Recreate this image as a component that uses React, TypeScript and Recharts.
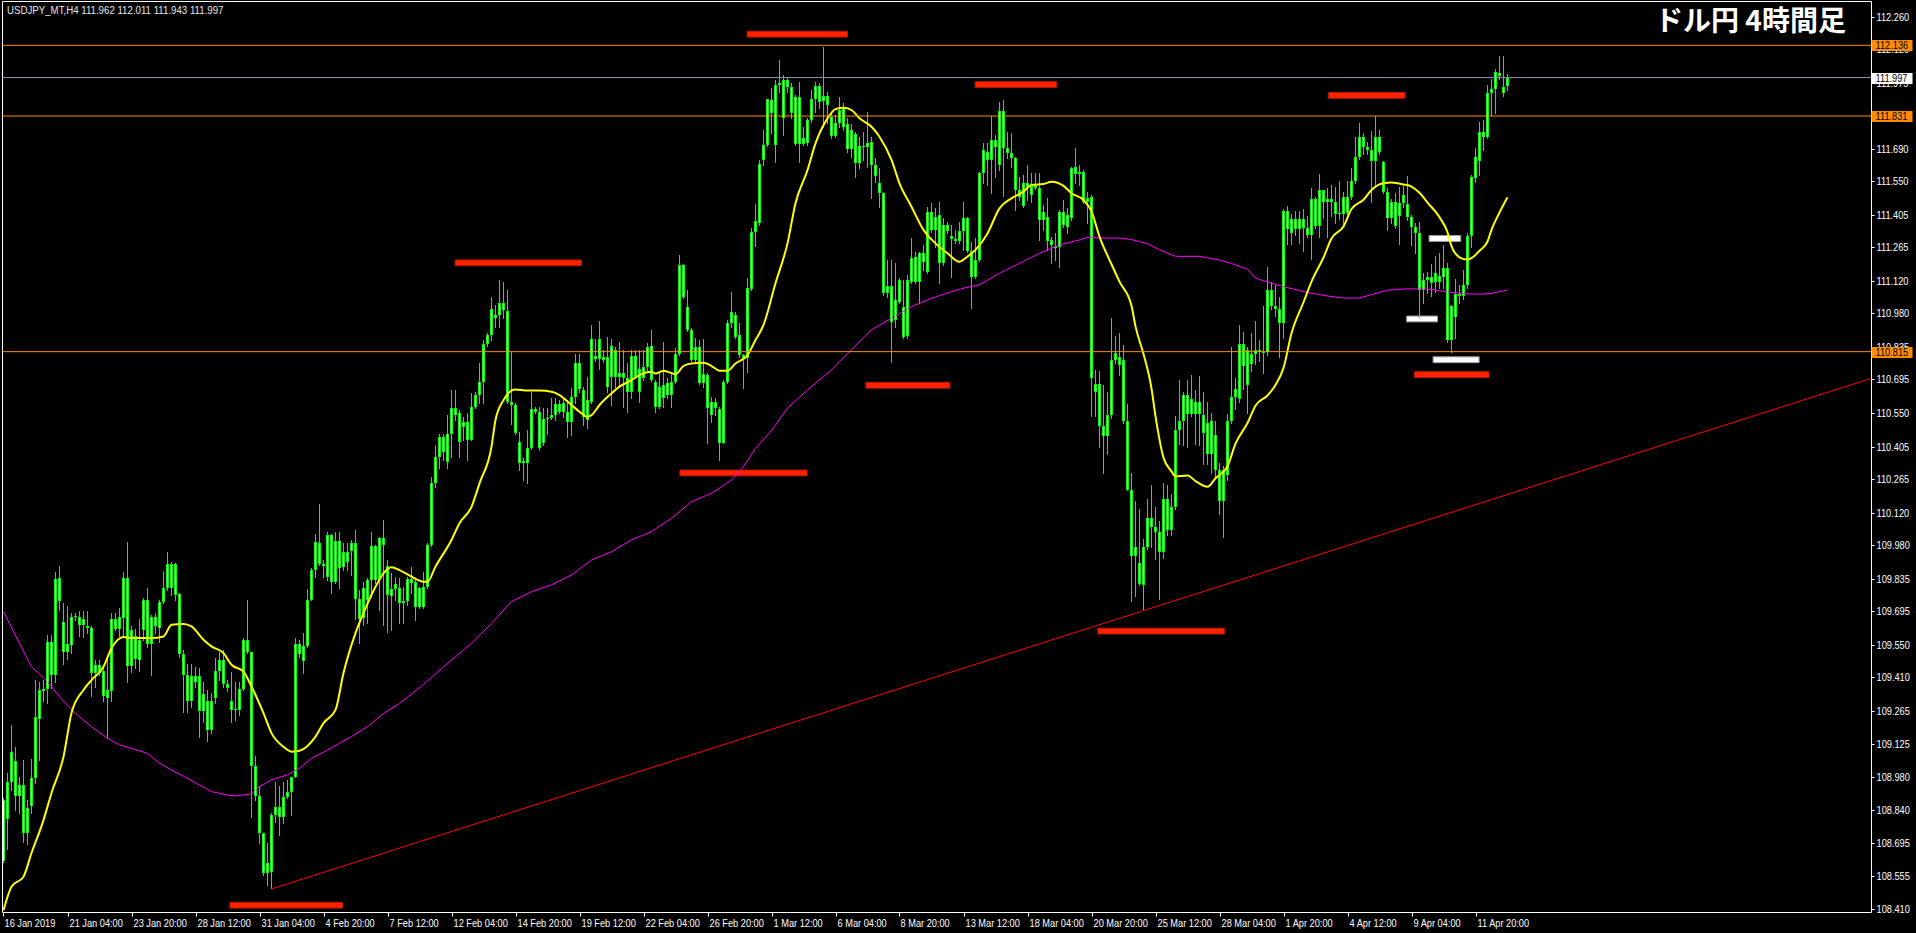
import React from 'react'
import {
  ComposedChart,
  Bar,
  Line,
  XAxis,
  YAxis,
  ReferenceLine,
  ReferenceArea,
} from 'recharts'

const WIDTH = 1916
const HEIGHT = 933
const BARS_PER_LABEL = 16
const LIME = '#00FF00'
const ORANGE = '#FF8C00'
const FONT = '"Liberation Sans", Arial, sans-serif'
const NARROW = 0.84

// USDJPY H4, one row per bar: [open, high, low, close]
const candles: [number, number, number, number][] = [
  [108.62, 108.89, 108.615, 108.88], [108.8, 109.0, 108.67, 108.96], [108.96, 109.205, 108.925, 109.09], [109.05, 109.11, 108.84, 108.9],
  [108.9, 108.98, 108.825, 108.945], [108.945, 109.055, 108.7, 108.74], [108.74, 108.88, 108.69, 108.845], [108.855, 109.06, 108.825, 108.975],
  [108.975, 109.4, 108.955, 109.24], [109.23, 109.39, 109.055, 109.355], [109.35, 109.4, 109.31, 109.36], [109.36, 109.595, 109.3, 109.565],
  [109.565, 109.595, 109.365, 109.42], [109.42, 109.865, 109.39, 109.835], [109.84, 109.89, 109.7, 109.74], [109.65, 109.73, 109.47, 109.52],
  [109.52, 109.72, 109.49, 109.555], [109.55, 109.686, 109.514, 109.67], [109.67, 109.686, 109.658, 109.675], [109.67, 109.695, 109.59, 109.635],
  [109.635, 109.695, 109.586, 109.66], [109.63, 109.695, 109.6, 109.625], [109.625, 109.63, 109.33, 109.43], [109.43, 109.485, 109.37, 109.465],
  [109.465, 109.485, 109.42, 109.43], [109.44, 109.45, 109.31, 109.33], [109.32, 109.5, 109.15, 109.355], [109.35, 109.686, 109.31, 109.66],
  [109.66, 109.686, 109.615, 109.62], [109.62, 109.71, 109.59, 109.67], [109.665, 109.866, 109.59, 109.84], [109.84, 109.995, 109.39, 109.46],
  [109.46, 109.63, 109.435, 109.615], [109.59, 109.62, 109.45, 109.49], [109.485, 109.66, 109.44, 109.57], [109.615, 109.751, 109.571, 109.745],
  [109.745, 109.795, 109.54, 109.555], [109.555, 109.68, 109.42, 109.67], [109.67, 109.686, 109.6, 109.632], [109.625, 109.744, 109.564, 109.735],
  [109.735, 109.87, 109.73, 109.795], [109.795, 109.95, 109.787, 109.9], [109.795, 109.91, 109.765, 109.9], [109.9, 109.905, 109.744, 109.765],
  [109.77, 109.776, 109.5, 109.51], [109.51, 109.53, 109.26, 109.42], [109.42, 109.47, 109.26, 109.31], [109.31, 109.47, 109.284, 109.415],
  [109.415, 109.456, 109.37, 109.39], [109.415, 109.45, 109.155, 109.265], [109.265, 109.39, 109.22, 109.34], [109.31, 109.355, 109.135, 109.185],
  [109.185, 109.342, 109.17, 109.31], [109.32, 109.492, 109.3, 109.44], [109.44, 109.52, 109.4, 109.485], [109.485, 109.528, 109.37, 109.38],
  [109.38, 109.4, 109.35, 109.365], [109.31, 109.435, 109.22, 109.27], [109.27, 109.392, 109.227, 109.272], [109.27, 109.392, 109.248, 109.36],
  [109.36, 109.58, 109.356, 109.57], [109.57, 109.744, 109.514, 109.52], [109.52, 109.521, 108.81, 109.03], [109.03, 109.07, 108.88, 108.9],
  [108.9, 108.94, 108.695, 108.74], [108.74, 108.74, 108.558, 108.565], [108.565, 108.695, 108.515, 108.61], [108.57, 108.824, 108.5, 108.815],
  [108.815, 108.961, 108.788, 108.85], [108.85, 108.94, 108.73, 108.81], [108.81, 108.961, 108.781, 108.895], [108.895, 108.968, 108.89, 108.918],
  [108.918, 108.982, 108.817, 108.98], [108.98, 109.58, 108.98, 109.555], [109.555, 109.571, 109.5, 109.51], [109.48, 109.6, 109.43, 109.545],
  [109.545, 109.79, 109.543, 109.745], [109.745, 109.88, 109.744, 109.875], [109.875, 110.03, 109.845, 109.995], [109.99, 110.16, 109.895, 109.9],
  [109.9, 109.916, 109.845, 109.89], [109.845, 110.038, 109.83, 110.025], [110.025, 110.03, 109.773, 109.82], [109.82, 110.038, 109.816, 110.0],
  [110.0, 110.038, 109.794, 109.88], [109.885, 109.988, 109.873, 109.95], [109.95, 109.988, 109.873, 109.91], [109.957, 110.003, 109.852, 109.988],
  [109.99, 110.045, 109.66, 109.75], [109.75, 109.787, 109.557, 109.66], [109.665, 109.823, 109.636, 109.795], [109.744, 109.837, 109.643, 109.83],
  [109.83, 110.038, 109.758, 109.975], [109.975, 109.98, 109.816, 109.83], [109.83, 110.017, 109.7, 110.01], [110.01, 110.09, 109.636, 109.98],
  [109.89, 109.916, 109.607, 109.765], [109.76, 109.86, 109.615, 109.79], [109.79, 109.845, 109.745, 109.815], [109.795, 109.84, 109.645, 109.73],
  [109.733, 109.8, 109.645, 109.741], [109.74, 109.845, 109.722, 109.833], [109.833, 109.888, 109.773, 109.816], [109.82, 109.83, 109.658, 109.715],
  [109.715, 109.8, 109.708, 109.794], [109.715, 109.866, 109.708, 109.8], [109.8, 109.988, 109.794, 109.98], [109.98, 110.276, 109.975, 110.247],
  [110.247, 110.412, 110.23, 110.36], [110.362, 110.462, 110.312, 110.448], [110.448, 110.462, 110.348, 110.384], [110.34, 110.541, 110.312, 110.462],
  [110.462, 110.649, 110.362, 110.57], [110.57, 110.649, 110.52, 110.541], [110.549, 110.563, 110.362, 110.427], [110.491, 110.534, 110.434, 110.513],
  [110.513, 110.549, 110.348, 110.434], [110.434, 110.635, 110.434, 110.577], [110.577, 110.642, 110.57, 110.628], [110.628, 110.764, 110.592, 110.682],
  [110.682, 110.865, 110.592, 110.846], [110.846, 110.894, 110.84, 110.886], [110.886, 111.052, 110.865, 111.001], [110.973, 111.016, 110.922, 110.958],
  [110.973, 111.124, 110.922, 111.023], [110.994, 111.116, 110.958, 111.023], [110.991, 111.08, 110.595, 110.599], [110.6, 110.815, 110.505, 110.585],
  [110.585, 110.592, 110.46, 110.465], [110.427, 110.47, 110.305, 110.336], [110.336, 110.355, 110.261, 110.345], [110.333, 110.477, 110.25, 110.398],
  [110.398, 110.642, 110.394, 110.566], [110.566, 110.577, 110.549, 110.556], [110.556, 110.577, 110.391, 110.398], [110.419, 110.57, 110.412, 110.523],
  [110.523, 110.57, 110.462, 110.527], [110.527, 110.613, 110.525, 110.541], [110.541, 110.613, 110.52, 110.589], [110.589, 110.606, 110.549, 110.556],
  [110.556, 110.613, 110.535, 110.592], [110.556, 110.606, 110.448, 110.513], [110.513, 110.657, 110.455, 110.621], [110.621, 110.807, 110.592, 110.764],
  [110.764, 110.807, 110.642, 110.652], [110.649, 110.664, 110.499, 110.534], [110.52, 110.707, 110.484, 110.606], [110.6, 110.929, 110.592, 110.868],
  [110.796, 110.868, 110.775, 110.782], [110.782, 110.948, 110.739, 110.868], [110.793, 110.822, 110.772, 110.779], [110.79, 110.879, 110.642, 110.664],
  [110.707, 110.868, 110.585, 110.839], [110.822, 110.836, 110.664, 110.707], [110.707, 110.858, 110.664, 110.721], [110.721, 110.822, 110.577, 110.7],
  [110.7, 110.764, 110.556, 110.642], [110.642, 110.822, 110.613, 110.796], [110.796, 110.822, 110.7, 110.707], [110.739, 110.822, 110.599, 110.642],
  [110.7, 110.822, 110.692, 110.75], [110.75, 110.851, 110.736, 110.833], [110.839, 110.908, 110.69, 110.692], [110.685, 110.692, 110.556, 110.577],
  [110.577, 110.728, 110.57, 110.664], [110.671, 110.858, 110.577, 110.613], [110.628, 110.7, 110.613, 110.678], [110.685, 110.728, 110.577, 110.628],
  [110.685, 110.829, 110.678, 110.807], [110.807, 111.231, 110.8, 111.188], [111.188, 111.195, 111.045, 111.052], [111.009, 111.08, 110.904, 110.908],
  [110.908, 110.915, 110.775, 110.779], [110.779, 110.872, 110.772, 110.836], [110.833, 110.865, 110.675, 110.678], [110.678, 110.868, 110.664, 110.717],
  [110.714, 110.721, 110.419, 110.573], [110.541, 110.621, 110.513, 110.599], [110.599, 110.613, 110.541, 110.57], [110.566, 110.577, 110.348, 110.422],
  [110.422, 110.692, 110.419, 110.685], [110.685, 110.951, 110.678, 110.94], [110.94, 111.073, 110.922, 110.987], [110.973, 110.987, 110.872, 110.879],
  [110.886, 110.937, 110.793, 110.8], [110.8, 110.807, 110.657, 110.786], [110.786, 111.131, 110.728, 111.088], [111.085, 111.35, 111.08, 111.33],
  [111.33, 111.45, 111.27, 111.38], [111.37, 111.64, 111.36, 111.625], [111.642, 111.771, 111.62, 111.706], [111.706, 111.906, 111.7, 111.903],
  [111.9, 111.951, 111.757, 111.846], [111.706, 111.986, 111.634, 111.965], [111.965, 112.073, 111.936, 111.975], [111.821, 112.008, 111.749, 111.986],
  [111.986, 111.993, 111.936, 111.955], [111.955, 111.972, 111.821, 111.846], [111.915, 111.922, 111.706, 111.711], [111.711, 111.979, 111.634, 111.912],
  [111.735, 111.785, 111.706, 111.711], [111.716, 111.821, 111.706, 111.814], [111.814, 111.943, 111.807, 111.903], [111.903, 111.979, 111.85, 111.961],
  [111.961, 111.975, 111.864, 111.893], [111.897, 112.13, 111.785, 111.917], [111.917, 111.936, 111.8, 111.879], [111.826, 111.85, 111.735, 111.745],
  [111.745, 111.835, 111.742, 111.8], [111.8, 111.915, 111.785, 111.857], [111.864, 111.886, 111.771, 111.785], [111.797, 111.821, 111.678, 111.688],
  [111.688, 111.797, 111.656, 111.771], [111.754, 111.764, 111.57, 111.627], [111.627, 111.742, 111.606, 111.702], [111.702, 111.764, 111.642, 111.696],
  [111.699, 111.85, 111.613, 111.716], [111.721, 111.742, 111.476, 111.62], [111.62, 111.649, 111.548, 111.573], [111.541, 111.606, 111.44, 111.498],
  [111.498, 111.505, 111.06, 111.067], [111.067, 111.211, 111.052, 111.096], [111.096, 111.211, 110.772, 110.945], [110.952, 111.196, 110.923, 111.038],
  [111.031, 111.131, 111.024, 111.124], [111.009, 111.124, 110.873, 110.88], [110.883, 111.146, 110.873, 111.124], [111.117, 111.304, 111.11, 111.218],
  [111.225, 111.246, 111.11, 111.117], [111.117, 111.246, 111.024, 111.239], [111.239, 111.275, 111.167, 111.203], [111.16, 111.44, 111.153, 111.419],
  [111.419, 111.455, 111.333, 111.34], [111.34, 111.433, 111.268, 111.397], [111.404, 111.462, 111.11, 111.196], [111.196, 111.39, 111.189, 111.361],
  [111.361, 111.376, 111.326, 111.337], [111.314, 111.361, 111.139, 111.3], [111.3, 111.34, 111.282, 111.29], [111.29, 111.376, 111.282, 111.337],
  [111.337, 111.462, 111.254, 111.39], [111.39, 111.397, 111.245, 111.247], [111.247, 111.289, 111.002, 111.139], [111.139, 111.304, 111.131, 111.21],
  [111.21, 111.591, 111.208, 111.587], [111.587, 111.713, 111.541, 111.685], [111.678, 111.713, 111.534, 111.642], [111.642, 111.831, 111.498, 111.728],
  [111.728, 111.749, 111.57, 111.696], [111.62, 111.893, 111.598, 111.853], [111.853, 111.9, 111.486, 111.692], [111.692, 111.764, 111.649, 111.673],
  [111.67, 111.757, 111.613, 111.649], [111.649, 111.656, 111.426, 111.512], [111.512, 111.57, 111.469, 111.483], [111.443, 111.577, 111.44, 111.544],
  [111.544, 111.62, 111.469, 111.527], [111.53, 111.584, 111.462, 111.491], [111.52, 111.584, 111.518, 111.534], [111.519, 111.584, 111.297, 111.383],
  [111.383, 111.448, 111.34, 111.419], [111.394, 111.476, 111.254, 111.294], [111.297, 111.311, 111.196, 111.275], [111.271, 111.325, 111.21, 111.261],
  [111.268, 111.426, 111.182, 111.419], [111.419, 111.469, 111.354, 111.361], [111.354, 111.433, 111.326, 111.404], [111.39, 111.613, 111.383, 111.606],
  [111.61, 111.692, 111.541, 111.581], [111.581, 111.62, 111.534, 111.591], [111.591, 111.598, 111.458, 111.462], [111.462, 111.505, 111.369, 111.479],
  [111.48, 111.49, 110.537, 110.7], [110.641, 110.738, 110.537, 110.674], [110.674, 110.731, 110.403, 110.493], [110.493, 110.671, 110.291, 110.451],
  [110.451, 110.641, 110.373, 110.54], [110.54, 110.961, 110.529, 110.78], [110.78, 110.882, 110.768, 110.809], [110.793, 110.894, 110.716, 110.756],
  [110.78, 110.842, 110.507, 110.515], [110.515, 110.589, 110.217, 110.22], [110.22, 110.291, 109.741, 109.934], [109.934, 110.172, 109.763, 109.974],
  [109.904, 110.135, 109.808, 109.815], [109.808, 110.008, 109.706, 109.974], [109.974, 110.18, 109.964, 110.098], [110.098, 110.24, 109.971, 110.061],
  [110.061, 110.143, 109.919, 110.039], [110.039, 110.083, 109.748, 109.949], [109.949, 110.247, 109.926, 110.18], [110.18, 110.239, 110.024, 110.046],
  [110.046, 110.202, 110.024, 110.143], [110.143, 110.537, 110.135, 110.477], [110.477, 110.693, 110.418, 110.515], [110.515, 110.641, 110.411, 110.626],
  [110.626, 110.693, 110.403, 110.544], [110.544, 110.716, 110.537, 110.611], [110.599, 110.648, 110.418, 110.544], [110.544, 110.708, 110.411, 110.599],
  [110.54, 110.641, 110.329, 110.463], [110.507, 110.596, 110.329, 110.373], [110.373, 110.552, 110.291, 110.515], [110.455, 110.515, 110.276, 110.306],
  [110.306, 110.336, 110.113, 110.172], [110.172, 110.321, 110.016, 110.306], [110.284, 110.544, 110.262, 110.515], [110.515, 110.834, 110.509, 110.619],
  [110.619, 110.701, 110.567, 110.656], [110.611, 110.931, 110.597, 110.85], [110.85, 110.901, 110.656, 110.753], [110.671, 110.834, 110.552, 110.82],
  [110.805, 110.894, 110.73, 110.76], [110.805, 110.946, 110.76, 110.823], [110.823, 110.864, 110.775, 110.812], [110.812, 111.013, 110.723, 110.815],
  [110.815, 111.181, 110.8, 111.08], [111.08, 111.117, 110.998, 111.013], [111.013, 111.102, 110.968, 110.998], [110.998, 111.05, 110.79, 110.939],
  [110.939, 111.43, 110.872, 111.422], [111.422, 111.445, 111.281, 111.343], [111.326, 111.408, 111.281, 111.385], [111.385, 111.422, 111.318, 111.343],
  [111.343, 111.422, 111.284, 111.388], [111.388, 111.43, 111.251, 111.35], [111.35, 111.4, 111.311, 111.318], [111.318, 111.519, 111.214, 111.475],
  [111.475, 111.482, 111.348, 111.358], [111.358, 111.579, 111.311, 111.512], [111.512, 111.512, 111.393, 111.46], [111.46, 111.519, 111.311, 111.475],
  [111.475, 111.534, 111.4, 111.46], [111.46, 111.527, 111.37, 111.407], [111.407, 111.549, 111.385, 111.415], [111.482, 111.504, 111.355, 111.407],
  [111.415, 111.549, 111.408, 111.482], [111.482, 111.608, 111.475, 111.549], [111.549, 111.742, 111.541, 111.653], [111.653, 111.802, 111.645, 111.739],
  [111.739, 111.757, 111.668, 111.698], [111.698, 111.72, 111.668, 111.686], [111.686, 111.765, 111.46, 111.638], [111.638, 111.831, 111.534, 111.739],
  [111.739, 111.772, 111.668, 111.675], [111.631, 111.638, 111.497, 111.504], [111.504, 111.519, 111.341, 111.393], [111.393, 111.475, 111.37, 111.46],
  [111.46, 111.497, 111.348, 111.358], [111.4, 111.527, 111.281, 111.455], [111.455, 111.53, 111.44, 111.49], [111.452, 111.573, 111.383, 111.395],
  [111.395, 111.405, 111.275, 111.351], [111.351, 111.369, 111.239, 111.325], [111.325, 111.376, 110.966, 111.081], [111.081, 111.153, 111.024, 111.122],
  [111.122, 111.16, 111.067, 111.136], [111.136, 111.193, 111.053, 111.11], [111.117, 111.228, 111.074, 111.153], [111.142, 111.239, 111.088, 111.117],
  [111.139, 111.275, 111.088, 111.175], [111.175, 111.199, 110.858, 110.866], [110.866, 111.017, 110.813, 111.01], [110.966, 111.127, 110.873, 111.064],
  [111.064, 111.103, 111.024, 111.053], [111.053, 111.167, 111.041, 111.103], [111.103, 111.328, 111.088, 111.314], [111.314, 111.577, 111.268, 111.57],
  [111.563, 111.692, 111.548, 111.653], [111.635, 111.807, 111.577, 111.764], [111.764, 111.814, 111.685, 111.739], [111.739, 111.965, 111.735, 111.932],
  [111.932, 111.989, 111.836, 111.946], [111.946, 112.033, 111.846, 112.022], [112.018, 112.09, 111.989, 112.004], [111.955, 112.09, 111.918, 111.932],
  [111.962, 112.011, 111.943, 111.997],
]

const timeLabels = [
  '16 Jan 2019', '21 Jan 04:00', '23 Jan 20:00', '28 Jan 12:00', '31 Jan 04:00', '4 Feb 20:00',
  '7 Feb 12:00', '12 Feb 04:00', '14 Feb 20:00', '19 Feb 12:00', '22 Feb 04:00', '26 Feb 20:00',
  '1 Mar 12:00', '6 Mar 04:00', '8 Mar 20:00', '13 Mar 12:00', '18 Mar 04:00', '20 Mar 20:00',
  '25 Mar 12:00', '28 Mar 04:00', '1 Apr 20:00', '4 Apr 12:00', '9 Apr 04:00', '11 Apr 20:00',
]

const priceTicks = [
  112.26, 112.12, 111.975, 111.835, 111.69, 111.55, 111.405, 111.265, 111.12, 110.98, 110.835, 110.695, 110.55, 110.405,
  110.265, 110.12, 109.98, 109.835, 109.695, 109.55, 109.41, 109.265, 109.125, 108.98, 108.84, 108.695, 108.555, 108.41,
]

// yellow moving average, sampled at these bars
const fastMaBars = [
  0, 2, 5, 7, 10, 12, 15, 17, 20, 22, 25, 27, 30, 32, 35, 37, 40, 42, 45, 47, 50, 52, 55, 57, 60, 62, 65, 67, 70, 72, 74, 78,
  80, 83, 85, 88, 90, 93, 95, 97, 99, 102, 105, 106, 108, 112, 114, 117, 119, 122, 123, 125, 127, 128, 131, 134, 137, 139,
  142, 144, 146, 147, 149, 152, 154, 157, 159, 162, 163, 165, 168, 170, 172, 175, 177, 179, 181, 183, 186, 188, 190, 193,
  196, 198, 201, 203, 206, 208, 210, 212, 214, 217, 219, 222, 224, 227, 230, 233, 236, 239, 241, 243, 246, 249, 252, 255,
  257, 260, 262, 265, 267, 270, 272, 274, 277, 279, 282, 283, 285, 287, 288, 290, 292, 293, 296, 298, 301, 303, 306, 308,
  311, 313, 316, 318, 320, 322, 325, 327, 330, 332, 335, 337, 340, 342, 345, 347, 350, 352, 354, 356, 359, 361, 362, 364,
  366, 367, 369, 371, 372, 374, 376,
]
const fastMaValues = [
  108.406, 108.508, 108.551, 108.653, 108.795, 108.912, 109.068, 109.257, 109.356, 109.399, 109.456, 109.536, 109.585,
  109.58, 109.58, 109.58, 109.587, 109.637, 109.641, 109.63, 109.573, 109.544, 109.515, 109.465, 109.435, 109.371,
  109.256, 109.17, 109.111, 109.09, 109.094, 109.155, 109.213, 109.27, 109.429, 109.601, 109.688, 109.801, 109.859,
  109.885, 109.873, 109.845, 109.823, 109.823, 109.888, 110.003, 110.075, 110.146, 110.247, 110.405, 110.52, 110.606,
  110.647, 110.652, 110.647, 110.647, 110.642, 110.628, 110.585, 110.556, 110.534, 110.541, 110.585, 110.635, 110.664,
  110.692, 110.714, 110.728, 110.721, 110.733, 110.718, 110.753, 110.764, 110.767, 110.753, 110.733, 110.733, 110.764,
  110.8, 110.865, 110.93, 111.11, 111.282, 111.455, 111.598, 111.713, 111.821, 111.861, 111.867, 111.857, 111.821,
  111.785, 111.742, 111.642, 111.541, 111.44, 111.34, 111.282, 111.239, 111.203, 111.225, 111.254, 111.325, 111.433,
  111.476, 111.505, 111.534, 111.538, 111.548, 111.53, 111.498, 111.469, 111.42, 111.311, 111.192, 111.117, 111.013,
  110.924, 110.805, 110.656, 110.537, 110.358, 110.299, 110.277, 110.281, 110.257, 110.232, 110.269, 110.321, 110.418,
  110.507, 110.582, 110.626, 110.671, 110.745, 110.894, 111.028, 111.117, 111.221, 111.303, 111.355, 111.43, 111.47,
  111.512, 111.541, 111.544, 111.536, 111.527, 111.5, 111.458, 111.395, 111.33, 111.27, 111.222, 111.212, 111.218,
  111.25, 111.29, 111.34, 111.415, 111.481,
]

// magenta moving average, sampled at these bars
const slowMaBars = [
  0, 4, 7, 11, 14, 18, 22, 26, 29, 32, 36, 39, 42, 46, 49, 52, 56, 58, 62, 64, 67, 71, 74, 77, 81, 84, 87, 91, 95, 99, 105,
  112, 117, 122, 127, 132, 137, 142, 147, 152, 157, 162, 167, 172, 177, 182, 185, 188, 192, 196, 201, 207, 212, 217, 222,
  227, 232, 237, 241, 244, 249, 254, 259, 264, 269, 271, 274, 279, 282, 286, 289, 293, 299, 304, 307, 311, 313, 317, 321,
  326, 331, 335, 339, 342, 346, 351, 356, 361, 365, 369, 372, 376,
]
const slowMaValues = [
  109.694, 109.557, 109.456, 109.392, 109.327, 109.255, 109.198, 109.148, 109.119, 109.104, 109.083, 109.04, 109.011,
  108.975, 108.946, 108.918, 108.903, 108.899, 108.908, 108.939, 108.968, 108.99, 109.018, 109.061, 109.097, 109.126,
  109.155, 109.198, 109.255, 109.298, 109.38, 109.485, 109.557, 109.643, 109.737, 109.78, 109.809, 109.852, 109.917,
  109.952, 110.003, 110.039, 110.096, 110.168, 110.204, 110.261, 110.319, 110.398, 110.474, 110.571, 110.65, 110.736,
  110.823, 110.909, 110.959, 111.009, 111.045, 111.074, 111.093, 111.103, 111.153, 111.196, 111.239, 111.275, 111.297,
  111.308, 111.305, 111.305, 111.298, 111.281, 111.254, 111.226, 111.226, 111.21, 111.195, 111.17, 111.132, 111.11,
  111.091, 111.07, 111.055, 111.046, 111.046, 111.061, 111.08, 111.086, 111.085, 111.073, 111.065, 111.063, 111.066,
  111.081,
]

const header = 'USDJPY_MT,H4  111.962 112.011 111.943 111.997'
const title = 'ドル円 4時間足'
const levelPrices = [112.136, 111.831, 110.815]
const bidPrice = 111.997

// drawn boxes: [from bar, to bar, price]
const redBoxes: [number, number, number][] = [
  [56.6, 84.8, 108.428], [112.9, 144.5, 111.198], [169.1, 200.9, 110.292], [185.9, 211.0, 112.184],
  [215.6, 236.6, 110.67], [242.9, 263.3, 111.967], [273.6, 305.3, 109.61], [331.3, 350.4, 111.92],
  [352.7, 371.4, 110.716],
]
const whiteBoxes: [number, number, number][] = [
  [356.4, 364.3, 111.303], [350.8, 358.5, 110.956], [357.4, 368.9, 110.78],
]
const trendFrom = { bar: 67, price: 108.498 }
const trendTo = { bar: 467, price: 110.7 }

const X_MIN = -0.25
const X_MAX = 467
const Y_MIN = 108.3965
const Y_MAX = 112.3249
const BOX_HALF = 0.0125

type Row = { i: number; range: [number, number]; o: number; h: number; l: number; c: number; fast?: number; slow?: number }

const rows: Row[] = candles.map(([o, h, l, c], i) => ({ i, range: [l, h], o, h, l, c }))
fastMaBars.forEach((b, k) => { rows[b].fast = fastMaValues[k] })
slowMaBars.forEach((b, k) => { rows[b].slow = slowMaValues[k] })

const labelTicks = timeLabels.map((_, k) => k * BARS_PER_LABEL)
// tagged prices come last so their boxes sit on top of the plain scale labels
const axisTicks = [...priceTicks, bidPrice, ...levelPrices]

function Candle(props: any) {
  const { x, y, width, height, payload } = props
  if (x == null || !payload) return null
  const { o, h, l, c } = payload
  const span = h - l || 1e-6
  const py = (p: number) => y + ((h - p) / span) * height
  const cx = Math.floor(x + width / 2) + 0.5
  const top = Math.round(py(Math.max(o, c)))
  const bot = Math.round(py(Math.min(o, c)))
  return (
    <g>
      <line x1={cx} x2={cx} y1={Math.round(y)} y2={Math.round(y + height) + 1} stroke={LIME} strokeWidth={1} />
      {bot - top >= 2 ? (
        <rect x={cx - 1} y={top + 0.5} width={2} height={bot - top - 1} fill="#FFFFFF" stroke={LIME} strokeWidth={1} />
      ) : (
        <line x1={cx - 1.5} x2={cx + 1.5} y1={top + 0.5} y2={top + 0.5} stroke={LIME} strokeWidth={1} />
      )}
    </g>
  )
}

function SmallText({ x, y, fill, children }: any) {
  return (
    <text transform={`translate(${x},${y}) scale(${NARROW},1)`} fill={fill} fontSize={11} fontFamily={FONT}>
      {children}
    </text>
  )
}

function PriceTick({ x, y, payload }: any) {
  const v = Number(payload.value)
  const yy = Math.round(y) + 0.5
  const tagged = levelPrices.includes(v) ? ORANGE : v === bidPrice ? '#FFFFFF' : null
  if (tagged) {
    return (
      <g>
        <rect x={x} y={Math.round(y) - 5} width={41} height={11} fill={tagged} />
        <SmallText x={x + 4} y={y + 4} fill="#000000">{v.toFixed(3)}</SmallText>
      </g>
    )
  }
  return (
    <g>
      <line x1={x} x2={x + 3} y1={yy} y2={yy} stroke="#FFFFFF" />
      <SmallText x={x + 5} y={y + 4} fill="#FFFFFF">{v.toFixed(3)}</SmallText>
    </g>
  )
}

function TimeTick({ x, y, payload }: any) {
  const xx = Math.round(x) + 0.5
  return (
    <g>
      <line x1={xx} x2={xx} y1={y} y2={y + 4} stroke="#FFFFFF" />
      <SmallText x={xx + 1} y={y + 14} fill="#FFFFFF">
        {timeLabels[Math.round(payload.value / BARS_PER_LABEL)]}
      </SmallText>
    </g>
  )
}

export default function App() {
  return (
    <div style={{ position: 'fixed', left: 0, top: 0, width: WIDTH, height: HEIGHT, background: '#000000' }}>
      <ComposedChart width={WIDTH} height={HEIGHT} data={rows} margin={{ top: 1.5, right: 0, bottom: 0, left: 2.5 }}>
        <XAxis
          dataKey="i"
          type="number"
          domain={[X_MIN, X_MAX]}
          ticks={labelTicks}
          allowDataOverflow
          height={20.5}
          tickSize={0}
          tickMargin={0}
          tickLine={false}
          axisLine={{ stroke: '#FFFFFF' }}
          tick={<TimeTick />}
          interval={0}
        />
        <YAxis
          orientation="right"
          type="number"
          domain={[Y_MIN, Y_MAX]}
          ticks={axisTicks}
          allowDataOverflow
          width={44.5}
          tickSize={0}
          tickMargin={0}
          tickLine={false}
          axisLine={{ stroke: '#FFFFFF' }}
          tick={<PriceTick />}
          interval={0}
        />
        <ReferenceLine x={X_MIN} stroke="#FFFFFF" />
        <ReferenceLine y={Y_MAX} stroke="#FFFFFF" />
        {redBoxes.map(([a, b, p], k) => (
          <ReferenceArea key={`r${k}`} x1={a} x2={b} y1={p - BOX_HALF} y2={p + BOX_HALF} fill="#FF2200" fillOpacity={1} stroke="#B81800" strokeWidth={1} />
        ))}
        {whiteBoxes.map(([a, b, p], k) => (
          <ReferenceArea key={`w${k}`} x1={a} x2={b} y1={p - BOX_HALF} y2={p + BOX_HALF} fill="#FFFFFF" fillOpacity={1} stroke="#A0A0A0" strokeWidth={1} />
        ))}
        <ReferenceLine
          segment={[{ x: trendFrom.bar, y: trendFrom.price }, { x: trendTo.bar, y: trendTo.price }]}
          stroke="#FF0000"
          strokeWidth={1}
        />
        <Bar dataKey="range" barSize={3} isAnimationActive={false} shape={(p: any) => <Candle {...p} />} />
        <Line dataKey="slow" type="linear" stroke="#FF00FF" strokeWidth={1} dot={false} activeDot={false} connectNulls isAnimationActive={false} />
        <Line dataKey="fast" type="monotone" stroke="#FFFF00" strokeWidth={2} dot={false} activeDot={false} connectNulls isAnimationActive={false} />
        <ReferenceLine y={bidPrice} stroke="#8796A8" />
        {levelPrices.map((p) => (
          <ReferenceLine key={p} y={p} stroke={ORANGE} />
        ))}
      </ComposedChart>
      <svg width={WIDTH} height={HEIGHT} style={{ position: 'absolute', left: 0, top: 0, pointerEvents: 'none' }}>
        <text transform={`translate(7,14) scale(0.88,1)`} fill="#E8E8E8" fontSize={11} fontFamily={FONT}>
          {header}
        </text>
        <text x={1655} y={31} fill="#FFFFFF" fontSize={28} fontWeight="bold" fontFamily='"Noto Sans CJK JP", sans-serif'>
          {title}
        </text>
      </svg>
    </div>
  )
}
